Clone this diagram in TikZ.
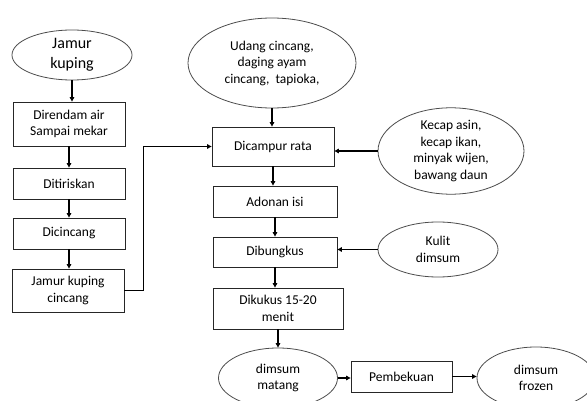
\documentclass[tikz,border=0pt]{standalone}
\usepackage{fontspec}
\setmainfont{Carlito}
\usetikzlibrary{shapes.geometric,arrows.meta,calc}
\tikzset{
  base/.style={align=center, text=black, font=\fontsize{13.5}{16.5}\selectfont, inner sep=0pt},
  stepbox/.style={base, draw=black!85, line width=0.8pt, rectangle},
  oval/.style={base, draw=black!70, line width=0.8pt, ellipse},
  arr/.style={draw=black, line width=1.3pt, -{Triangle[length=4.5pt,width=4.5pt]}},
}
\begin{document}
\begin{tikzpicture}[x=1pt,y=-1pt]
\useasboundingbox (0,0) rectangle (587,401);
\clip (0,0) rectangle (587,401);
\node[oval, minimum width=120, minimum height=50, font=\fontsize{16}{20}\selectfont] (j1) at (72,55) {Jamur\\kuping};
\node[stepbox, minimum width=112, minimum height=44] (b1) at (69,124) {Direndam air\\Sampai mekar};
\node[stepbox, minimum width=112, minimum height=31] (b2) at (69,183.5) {Ditiriskan};
\node[stepbox, minimum width=112, minimum height=31] (b3) at (69,233.5) {Dicincang};
\node[stepbox, minimum width=112, minimum height=43] (b4) at (68,290.5) {Jamur kuping\\cincang};
\node[oval, minimum width=168, minimum height=90] (u) at (272,63) {Udang cincang,\\daging ayam\\cincang,\ \ tapioka,};
\node[stepbox, minimum width=122, minimum height=39] (c) at (273,146.5) {Dicampur rata};
\node[oval, minimum width=146, minimum height=83] (k) at (451,151) {Kecap asin,\\kecap ikan,\\minyak wijen,\\bawang daun};
\node[stepbox, minimum width=124, minimum height=31] (a) at (275,201.5) {Adonan isi};
\node[stepbox, minimum width=124, minimum height=30] (d) at (275,252) {Dibungkus};
\node[oval, minimum width=120, minimum height=55] (kl) at (438,249.5) {Kulit\\dimsum};
\node[stepbox, minimum width=130, minimum height=41] (dk) at (278,308.5) {Dikukus 15-20\\menit};
\node[oval, minimum width=119, minimum height=60] (m) at (278,378) {dimsum\\matang};
\node[stepbox, minimum width=101, minimum height=31] (p) at (401.5,376.5) {Pembekuan};
\node[oval, minimum width=118, minimum height=62] (f) at (536,378) {dimsum\\frozen};
\draw[arr] (j1.south) -- (j1.south |- b1.north);
\draw[arr] (b1.south) -- (b1.south |- b2.north);
\draw[arr] (b2.south) -- (b2.south |- b3.north);
\draw[arr] (b3.south) -- (b3.south |- b4.north);
\draw[arr, line width=1.6pt] (b4.east) -- ++(19,0) |- (c.west);
\draw[arr] (u.south) -- (u.south |- c.north);
\draw[arr] (k.west) -- (c.east |- k.west);
\draw[arr] (c.south) -- (c.south |- a.north);
\draw[arr] (a.south) -- (a.south |- d.north);
\draw[arr] (kl.west) -- (d.east |- kl.west);
\draw[arr] (d.south) -- (d.south |- dk.north);
\draw[arr] (dk.south) -- (m.north);
\draw[arr] (m.east) -- (p.west |- m.east);
\draw[arr] (p.east) -- (f.west |- p.east);
\end{tikzpicture}
\end{document}
